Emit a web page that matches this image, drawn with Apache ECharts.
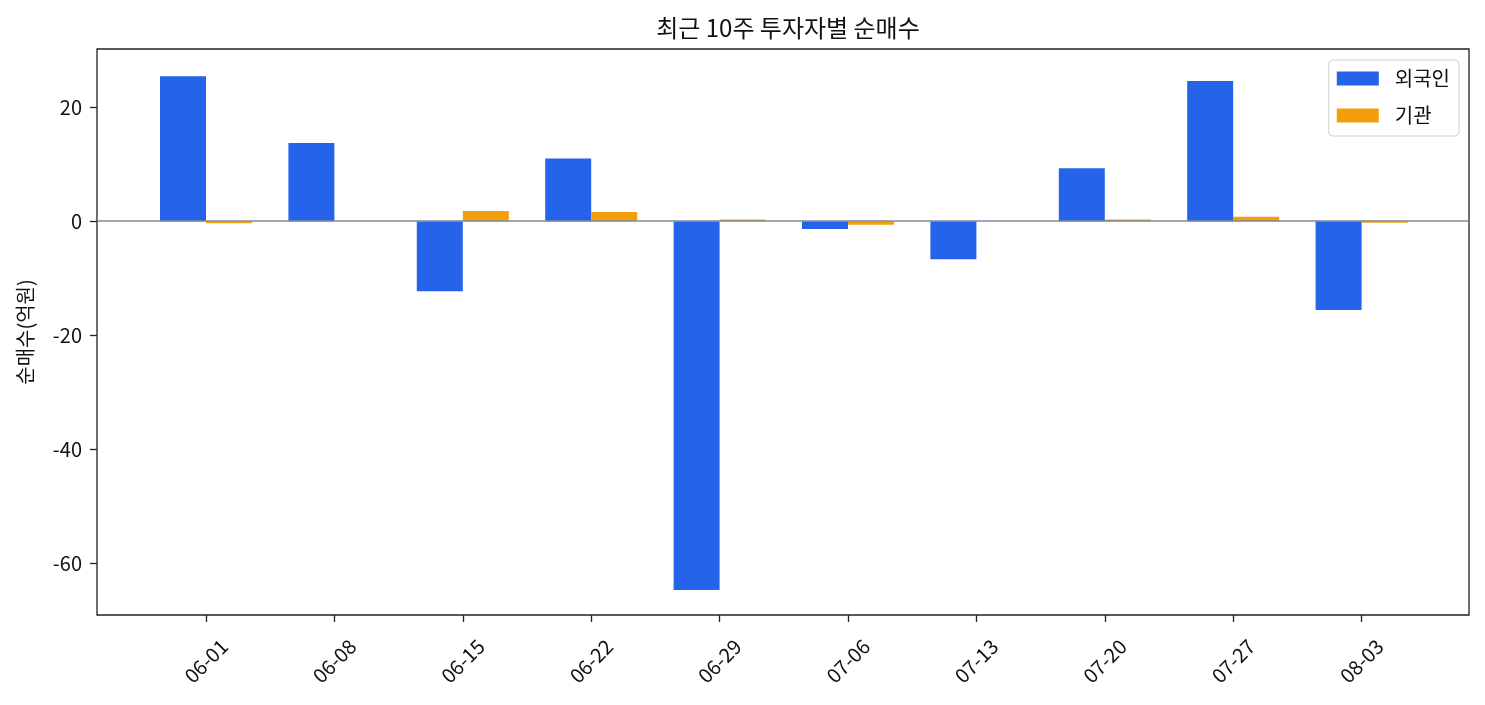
<!DOCTYPE html>
<html>
<head>
<meta charset="utf-8">
<script src="https://cdn.jsdelivr.net/npm/echarts@6/dist/echarts.min.js"></script>
<style>
html,body{margin:0;padding:0;background:#fff;}
#chart{width:1485px;height:705px;}
</style>
</head>
<body>
<div id="chart"></div>
<script>
const categories = ['06-01','06-08','06-15','06-22','06-29','07-06','07-13','07-20','07-27','08-03'];
const foreignNet = [25.4, 13.7, -12.3, 11.0, -64.7, -1.4, -6.7, 9.3, 24.6, -15.6];
const institutionNet = [-0.35, 0, 1.8, 1.6, 0.3, -0.65, 0, 0.3, 0.75, -0.3];
const yTicks = [-60, -40, -20, 0, 20];
const seriesNames = ['외국인', '기관'];

const FONT = '"Noto Sans CJK KR", "Noto Sans", sans-serif';
const yMin = -69.1, yMax = 30.2;

const chart = echarts.init(document.getElementById('chart'));
chart.setOption({
  animation: false,
  backgroundColor: '#fff',
  textStyle: { fontFamily: FONT },
  title: {
    text: '최근 10주 투자자별 순매수',
    left: 783, top: 11, textAlign: 'center',
    textStyle: { fontFamily: FONT, fontSize: 24, fontWeight: 'normal', color: '#111' }
  },
  legend: {
    data: seriesNames,
    orient: 'vertical',
    icon: 'rect',
    right: 26, top: 60,
    itemWidth: 42, itemHeight: 14, itemGap: 16,
    padding: [8, 9, 10, 8],
    borderColor: '#d0d0d0', borderWidth: 1, borderRadius: 4,
    backgroundColor: '#fff',
    textStyle: { fontFamily: FONT, fontSize: 20, lineHeight: 21, color: '#111', padding: [0, 0, 0, 11] }
  },
  grid: [
    { left: 141.8, right: 59.2, top: 49, bottom: 90 },
    { left: 97, right: 16, top: 49, bottom: 90, show: true, borderColor: '#222', borderWidth: 1.3, backgroundColor: 'transparent' }
  ],
  xAxis: [
    {
      gridIndex: 0, type: 'category', data: categories,
      axisLine: { show: false, onZero: false },
      axisTick: { show: true, alignWithLabel: true, length: 7, lineStyle: { color: '#222', width: 1.3 } },
      axisLabel: { rotate: 45, align: 'center', verticalAlign: 'middle', margin: 46, fontSize: 20, color: '#111', fontFamily: FONT, interval: 0 },
      splitLine: { show: false }
    },
    { gridIndex: 1, type: 'value', min: 0, max: 1, show: false }
  ],
  yAxis: [
    {
      gridIndex: 0, type: 'value', min: yMin, max: yMax, offset: 44.8,
      name: '순매수(억원)', nameLocation: 'middle', nameRotate: 90, nameGap: 62,
      nameTextStyle: { fontFamily: FONT, fontSize: 20, color: '#111' },
      axisLine: { show: false },
      axisTick: { show: true, length: 7, customValues: yTicks, lineStyle: { color: '#222', width: 1.3 } },
      axisLabel: { customValues: yTicks, fontSize: 20, color: '#111', margin: 15, fontFamily: FONT },
      splitLine: { show: false }
    },
    { gridIndex: 1, type: 'value', min: yMin, max: yMax, show: false }
  ],
  series: [
    {
      name: seriesNames[0], type: 'bar', xAxisIndex: 0, yAxisIndex: 0,
      data: foreignNet, barWidth: 46, barGap: '0%',
      itemStyle: { color: '#2563eb' }
    },
    {
      name: seriesNames[1], type: 'bar', xAxisIndex: 0, yAxisIndex: 0,
      data: institutionNet, barWidth: 46, barGap: '0%',
      itemStyle: { color: '#f59e0b' }
    },
    {
      name: 'zero', type: 'line', xAxisIndex: 1, yAxisIndex: 1, data: [],
      z: 10,
      markLine: {
        silent: true, symbol: 'none', z: 10,
        label: { show: false },
        lineStyle: { color: '#7f8b99', width: 1.5, type: 'solid' },
        data: [{ yAxis: 0 }]
      }
    }
  ]
});
</script>
</body>
</html>
